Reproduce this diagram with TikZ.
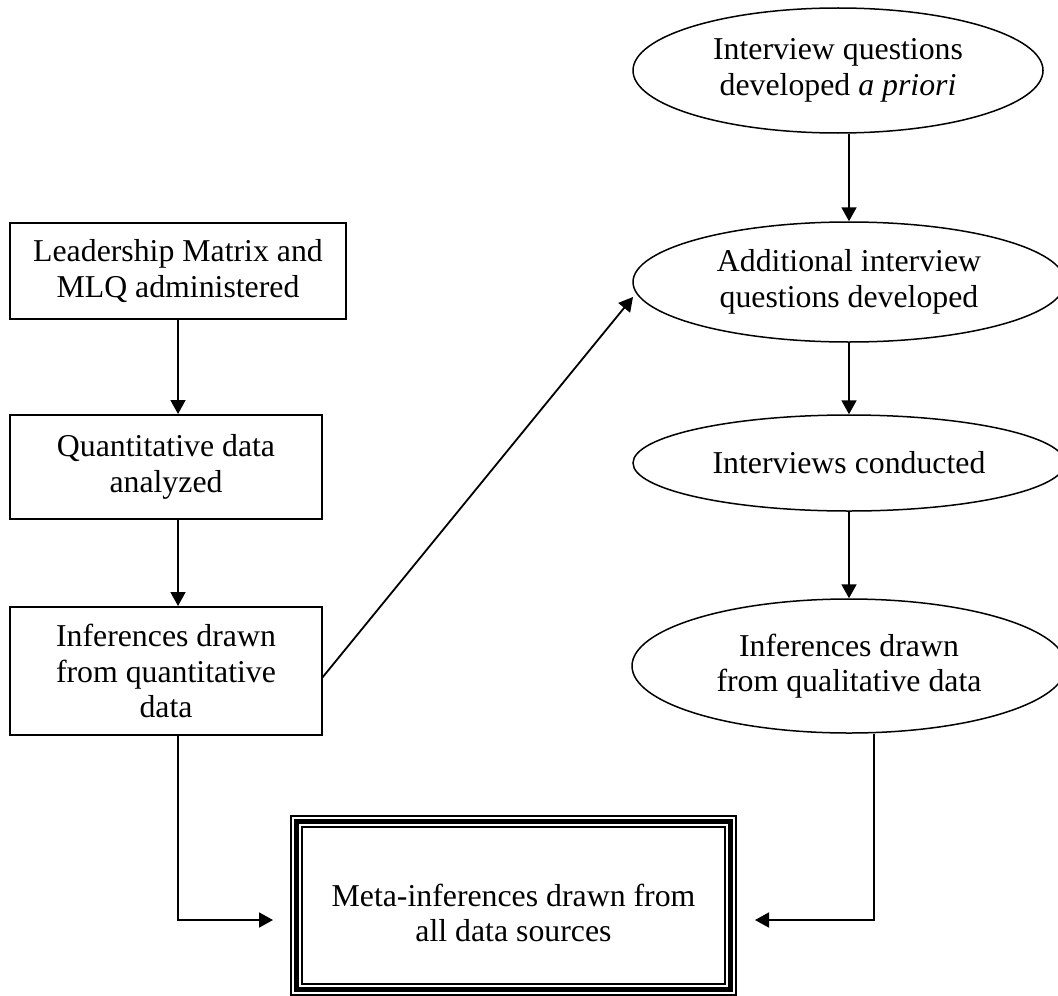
\documentclass[tikz,border=0pt]{standalone}
\usepackage{fontspec}
\setmainfont{Liberation Serif}
\usetikzlibrary{arrows.meta,shapes.geometric}
\begin{document}
\begin{tikzpicture}[x=0.5pt,y=-0.5pt,
  txt/.style={font=\fontsize{15.9pt}{17.75pt}\selectfont, align=center},
  boxnode/.style={txt, draw, line width=1pt, inner sep=0pt},
  ell/.style={txt, draw, ellipse, line width=0.75pt, inner sep=0pt},
  arr/.style={-{Triangle[length=7pt,width=7.5pt]}, line width=0.9pt},
  plain/.style={line width=0.9pt}]
\useasboundingbox (0,0) rectangle (1058,995);
\clip (0,0) rectangle (1058,995);
% left column
\node[boxnode, minimum width=168pt, minimum height=48pt] (b1) at (178,271) {Leadership Matrix and\\MLQ administered};
\node[boxnode, minimum width=156pt, minimum height=52pt] (b2) at (166,467) {Quantitative data\\analyzed};
\node[boxnode, minimum width=156pt, minimum height=64pt] (b3) at (166,671) {Inferences drawn\\from quantitative\\data};
% right column
\node[ell, minimum width=205pt, minimum height=62.5pt] (e1) at (838,70.5) {Interview questions\\developed \textit{a priori}};
\node[ell, minimum width=216pt, minimum height=60pt] (e2) at (849,282) {Additional interview\\questions developed};
\node[ell, minimum width=216pt, minimum height=48pt] (e3) at (849,463) {Interviews conducted};
\node[ell, minimum width=217pt, minimum height=67pt] (e4) at (849,666) {Inferences drawn\\from qualitative data};
% final box
\node[minimum width=223.5pt, minimum height=90.5pt, inner sep=0pt] (fin) at (513.5,905.5) {};
\draw[line width=1pt] ([shift={(1,1)}]fin.north west) rectangle ([shift={(-1,-1)}]fin.south east);
\draw[line width=2.5pt] ([shift={(6.5,6.5)}]fin.north west) rectangle ([shift={(-6.5,-6.5)}]fin.south east);
\draw[line width=0.75pt] ([shift={(12.5,12.5)}]fin.north west) rectangle ([shift={(-12.5,-12.5)}]fin.south east);
\node[txt] (fintxt) at (513.5,913) {Meta-inferences drawn from\\all data sources};
% connectors left
\draw[arr] (b1.south) -- (b1.south |- b2.north);
\draw[arr] (b1.south |- b2.south) -- (b1.south |- b3.north);
\coordinate (lc) at (178,920);
\coordinate (la) at (273,920);
\draw[arr] (b1.south |- b3.south) -- (lc) -- (la);
% diagonal
\coordinate (d0) at (322,678);
\coordinate (d1) at (633,297);
\draw[arr] (d0) -- (d1);
% connectors right
\draw[arr] (e1.south -| e2.north) -- (e2.north);
\draw[arr] (e2.south) -- (e3.north);
\draw[arr] (e3.south) -- (e4.north);
\coordinate (rc) at (874,920);
\coordinate (ra) at (755,920);
\draw[arr] (e4.south -| rc) -- (rc) -- (ra);
\end{tikzpicture}
\end{document}
